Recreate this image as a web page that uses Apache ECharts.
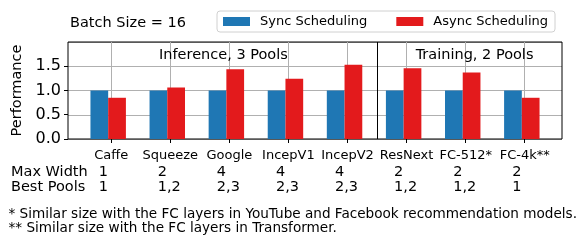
<!DOCTYPE html>
<html>
<head>
<meta charset="utf-8">
<script src="https://cdn.jsdelivr.net/npm/echarts@6/dist/echarts.min.js"></script>
<style>html,body{margin:0;padding:0;background:#fff}#c{width:582px;height:244px}</style>
</head>
<body>
<div id="c"></div>
<script>
// ---- data ----
const categories = ['Caffe', 'Squeeze', 'Google', 'IncepV1', 'IncepV2', 'ResNext', 'FC-512*', 'FC-4k**'];
const syncPerf  = [1.0, 1.0, 1.0, 1.0, 1.0, 1.0, 1.0, 1.0];
const asyncPerf = [0.85, 1.06, 1.44, 1.24, 1.53, 1.46, 1.37, 0.85];
const maxWidth  = ['1', '2', '4', '4', '4', '2', '2', '2'];
const bestPools = ['1', '1,2', '2,3', '2,3', '2,3', '1,2', '1,2', '1'];
const yTicks    = [0, 0.5, 1.0, 1.5];
const seriesNames = ['Sync Scheduling', 'Async Scheduling'];
const groupLabels = ['Inference, 3 Pools', 'Training, 2 Pools'];
const groupLabelX = [1.9, 6.15];
const groupDivider = 4.5;
const footnotes = ['* Similar size with the FC layers in YouTube and Facebook recommendation models.',
                   '** Similar size with the FC layers in Transformer.'];

// ---- layout ----
const W = 582, H = 244;
const X_MIN = -0.73, X_MAX = 7.63, Y_MAX = 2;
const BAR_W = 0.3, SYNC_OFF = -0.2, ASYNC_OFF = 0.1;
const TICK_LEN = 4;
const G = {left: 68, right: 20, top: 42, bottom: 105};
const pxPerUnit = (W - G.left - G.right) / (X_MAX - X_MIN);
const g2Left = G.left + (0 - X_MIN) * pxPerUnit;
const g2Right = W - (G.left + (categories.length - 1 - X_MIN) * pxPerUnit);
const FONT = 'DejaVu Sans';
const BLUE = '#1f77b4', RED = '#e31a1c', GRID = '#b0b0b0';

function barRender(params, api) {
  const x = api.value(0), y = api.value(1);
  const p0 = api.coord([x - BAR_W / 2, y]);
  const p1 = api.coord([x + BAR_W / 2, 0]);
  return {type: 'rect', shape: {x: p0[0], y: p0[1], width: p1[0] - p0[0], height: p1[1] - p0[1]},
          style: api.style()};
}
// vertical grid lines at category positions
function vgridRender(params, api) {
  const a = api.coord([api.value(0), 0]), b = api.coord([api.value(0), Y_MAX]);
  return {type: 'rect', shape: {x: Math.floor(a[0]), y: b[1], width: 1, height: a[1] - b[1]},
          style: {fill: GRID}};
}
// x ticks below the axis
function xtickRender(params, api) {
  const a = api.coord([api.value(0), 0]);
  return {type: 'rect', shape: {x: Math.floor(a[0]), y: Math.floor(a[1]), width: 1, height: TICK_LEN},
          style: {fill: '#000'}};
}
// y ticks left of the axis
function ytickRender(params, api) {
  const a = api.coord([X_MIN, api.value(1)]);
  return {type: 'rect', shape: {x: Math.floor(a[0]) - TICK_LEN, y: Math.floor(a[1]), width: TICK_LEN, height: 1},
          style: {fill: '#000'}};
}

const chart = echarts.init(document.getElementById('c'), null, {renderer: 'canvas'});
chart.setOption({
  animation: false,
  textStyle: {fontFamily: FONT},
  grid: [
    {left: G.left, right: G.right, top: G.top, bottom: G.bottom, show: true, borderColor: '#000', borderWidth: 1, z: 1},
    {left: g2Left, right: g2Right, top: G.top, bottom: G.bottom, show: false}
  ],
  legend: {
    data: seriesNames, left: 217, top: 11, orient: 'horizontal',
    icon: 'rect', itemWidth: 27, itemHeight: 9, itemGap: 29,
    padding: [4, 7, 4, 6], borderColor: '#d0d0d0', borderWidth: 1, borderRadius: 3,
    backgroundColor: '#fff',
    textStyle: {fontFamily: FONT, fontSize: 13, color: '#000', padding: [0, 0, 0, 5]}
  },
  xAxis: [
    {type: 'value', gridIndex: 0, min: X_MIN, max: X_MAX, axisLine: {show: false, onZero: false},
     axisTick: {show: false}, axisLabel: {show: false}, splitLine: {show: false}},
    {type: 'value', gridIndex: 1, min: 0, max: categories.length - 1, interval: 1,
     axisLine: {show: false, onZero: false}, axisTick: {show: false}, splitLine: {show: false},
     axisLabel: {show: true, margin: 10, fontSize: 13, color: '#000', fontFamily: FONT,
                 formatter: v => categories[Math.round(v)] || ''}}
  ],
  yAxis: [
    {type: 'value', gridIndex: 0, min: 0, max: Y_MAX, interval: 0.5,
     axisLine: {show: false, onZero: false}, axisTick: {show: false},
     axisLabel: {show: true, margin: 7, fontSize: 16, color: '#000', fontFamily: FONT,
                 customValues: yTicks, formatter: v => v.toFixed(1)},
     splitLine: {show: true, lineStyle: {color: GRID, width: 1}},
     name: 'Performance', nameLocation: 'middle', nameGap: 42,
     nameTextStyle: {fontSize: 14.5, color: '#000', fontFamily: FONT}},
    {type: 'value', gridIndex: 1, min: 0, max: 1, show: false, axisLine: {onZero: false}}
  ],
  series: [
    {name: 'vgrid', type: 'custom', xAxisIndex: 0, yAxisIndex: 0, z: 1,
     renderItem: vgridRender, data: categories.map((c, i) => [i, 0])},
    {name: 'xticks', type: 'custom', xAxisIndex: 0, yAxisIndex: 0, z: 4, clip: false,
     renderItem: xtickRender, data: categories.map((c, i) => [i, 0])},
    {name: 'yticks', type: 'custom', xAxisIndex: 0, yAxisIndex: 0, z: 4, clip: false,
     renderItem: ytickRender, data: yTicks.map(v => [X_MIN, v])},
    {name: seriesNames[0], type: 'custom', xAxisIndex: 0, yAxisIndex: 0, renderItem: barRender,
     itemStyle: {color: BLUE}, color: BLUE, z: 3,
     encode: {x: 0, y: 1}, data: syncPerf.map((v, i) => [i + SYNC_OFF, v])},
    {name: seriesNames[1], type: 'custom', xAxisIndex: 0, yAxisIndex: 0, renderItem: barRender,
     itemStyle: {color: RED}, color: RED, z: 3,
     encode: {x: 0, y: 1}, data: asyncPerf.map((v, i) => [i + ASYNC_OFF, v]),
     markLine: {silent: true, symbol: 'none', label: {show: false}, animation: false,
                lineStyle: {color: '#000', type: 'solid', width: 1},
                data: [{xAxis: groupDivider}]}}
  ]
});

// free text elements, positioned from the axes
const graphics = [];
function txt(x, y, s, size, align) {
  graphics.push({type: 'text', x: x, y: y, z: 10,
    style: {text: s, fontFamily: FONT, fontSize: size, fill: '#000', align: align || 'left', verticalAlign: 'middle'}});
}
txt(70, 23.5, 'Batch Size = 16', 14.5);
groupLabels.forEach((s, k) => {
  const p = chart.convertToPixel({xAxisIndex: 0, yAxisIndex: 0}, [groupLabelX[k], 1.72]);
  txt(p[0], p[1], s, 14.5, 'center');
});
txt(11, 172, 'Max Width', 14.5);
txt(11, 187, 'Best Pools', 14.5);
categories.forEach((c, i) => {
  const px = chart.convertToPixel({xAxisIndex: 1}, i);
  txt(px - 12.5, 172, maxWidth[i], 14.5);
  txt(px - 12.5, 187, bestPools[i], 14.5);
});
txt(8.5, 214.5, footnotes[0], 13.6);
txt(8.5, 228, footnotes[1], 13.6);
chart.setOption({graphic: graphics});
</script>
</body>
</html>
